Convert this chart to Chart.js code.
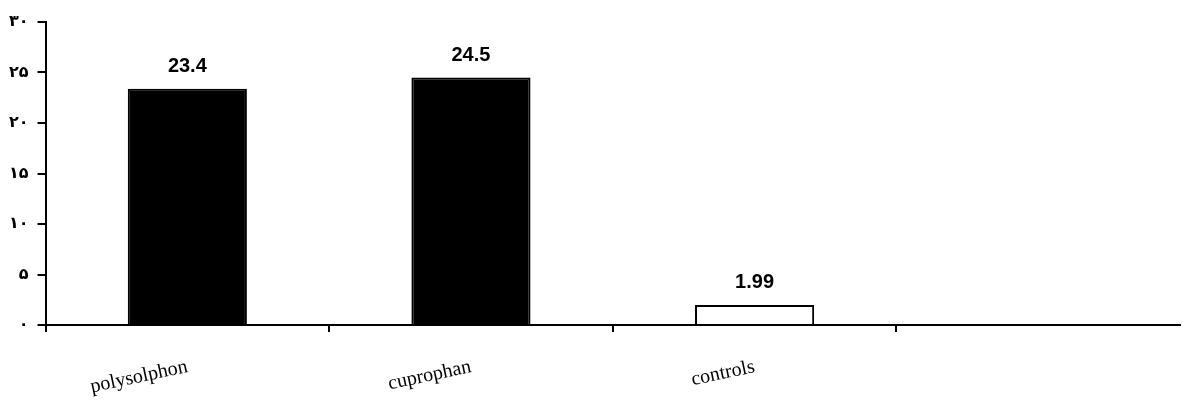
<!DOCTYPE html>
<html>
<head>
<meta charset="utf-8">
<script src="https://cdn.jsdelivr.net/npm/chart.js@4/dist/chart.umd.min.js"></script>
<style>
  html, body { margin: 0; padding: 0; background: #fff; }
  #wrap { width: 1184px; height: 402px; }
</style>
</head>
<body>
<div id="wrap"><canvas id="barChart"></canvas></div>
<script>
const categories = ['polysolphon', 'cuprophan', 'controls', ''];
const values = [23.4, 24.5, 1.99, null];
const barColors = ['#000000', '#000000', '#ffffff', '#ffffff'];
const yTicks = [0, 5, 10, 15, 20, 25, 30];

// persian digits for the y axis
function toPersian(n) {
    return String(n).replace(/[0-9]/g, d => String.fromCharCode(0x06F0 + Number(d)));
}

const valueLabels = {
    id: 'valueLabels',
    afterDatasetsDraw(chart) {
        const ctx = chart.ctx;
        const meta = chart.getDatasetMeta(0);
        ctx.save();
        ctx.font = 'bold 20px "Liberation Sans", Arial, sans-serif';
        ctx.fillStyle = '#000';
        ctx.textAlign = 'center';
        ctx.textBaseline = 'bottom';
        meta.data.forEach((bar, i) => {
            if (values[i] === null) return;
            ctx.fillText(String(values[i]), bar.x, bar.y - 12);
        });
        ctx.restore();
    }
};

document.addEventListener('DOMContentLoaded', function() {
    const ctx = document.getElementById('barChart').getContext('2d');

    new Chart(ctx, {
        type: 'bar',
        data: {
            labels: categories,
            datasets: [{
                data: values,
                backgroundColor: barColors,
                borderColor: '#000000',
                borderWidth: 2,
                categoryPercentage: 1,
                barPercentage: 0.42
            }]
        },
        options: {
            responsive: true,
            maintainAspectRatio: false,
            animation: false,
            layout: { padding: { top: 22, right: 4, left: 0, bottom: 0 } },
            plugins: {
                legend: { display: false },
                tooltip: { enabled: false }
            },
            scales: {
                x: {
                    border: { color: '#000', width: 2 },
                    grid: {
                        drawOnChartArea: false,
                        offset: true,
                        tickLength: 7,
                        lineWidth: 2,
                        // no tick at the far right end
                        color: c => c.tick ? '#000' : 'rgba(0,0,0,0)'
                    },
                    afterFit: axis => { axis.height = 77; },
                    ticks: {
                        color: '#000',
                        font: { family: '"Liberation Serif", "DejaVu Serif", serif', size: 20 },
                        minRotation: 12,
                        maxRotation: 12,
                        padding: 23
                    }
                },
                y: {
                    min: 0,
                    max: 30,
                    border: { color: '#000', width: 2 },
                    grid: { drawOnChartArea: false, tickLength: 8, color: '#000', lineWidth: 2 },
                    afterBuildTicks: axis => { axis.ticks = yTicks.map(v => ({ value: v })); },
                    ticks: {
                        color: '#000',
                        font: { family: '"DejaVu Sans", sans-serif', size: 16, weight: 'bold' },
                        padding: 9,
                        callback: v => toPersian(v)
                    }
                }
            }
        },
        plugins: [valueLabels]
    });
});
</script>
</body>
</html>
